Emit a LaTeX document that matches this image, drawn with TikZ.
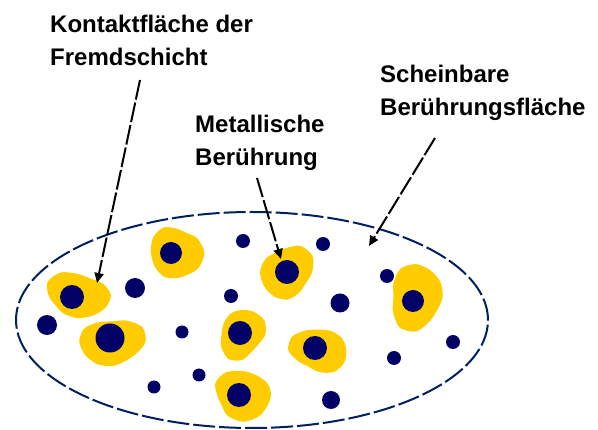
\documentclass[tikz,border=0pt]{standalone}
\usepackage{fontspec}
\setmainfont{Liberation Sans}
\usetikzlibrary{arrows.meta,shapes.geometric}
\definecolor{blobyellow}{RGB}{255,204,0}
\definecolor{dotnavy}{RGB}{0,0,102}
\definecolor{rimblue}{RGB}{0,32,96}
% #1,#2 centre; #3,#4 radii; #5 amplitude; #6,#7 phases
\newcommand{\myblob}[7]{%
  \fill[blobyellow] plot[smooth cycle, samples at={0,30,...,330}, variable=\t]
   ({#1+#3*(1+#5*sin(2*\t+#6)+0.6*#5*cos(3*\t+#7))*cos(\t)},
    {#2+#4*(1+#5*sin(2*\t+#6)+0.6*#5*cos(3*\t+#7))*sin(\t)});}
\tikzset{
  dot/.style={circle, fill=dotnavy, inner sep=0pt},
  lbl/.style={anchor=north west, inner sep=0pt, align=left,
    font=\fontsize{24}{33}\selectfont\bfseries},
  pointer/.style={line width=2pt, dash pattern=on 20pt off 3pt,
    -{Triangle[length=10pt,width=9pt]}},
}
\begin{document}
\begin{tikzpicture}[x=1pt,y=-1pt]
\useasboundingbox (0,0) rectangle (598,430);
% apparent contact area
\node[ellipse, draw=rimblue, line width=2pt, dash pattern=on 22pt off 4pt,
      minimum width=472pt, minimum height=216pt, inner sep=0pt] (area) at (252,320) {};
% foreign layer contact patches
\myblob{78}{295}{30}{23}{0.12}{20}{40}
\myblob{176}{253}{24}{28}{0.12}{70}{10}
\myblob{112}{342}{30}{25}{0.12}{120}{80}
\myblob{242}{334}{23}{24}{0.13}{200}{30}
\myblob{243}{395}{30}{23}{0.12}{300}{60}
\myblob{287}{272}{25}{27}{0.12}{160}{120}
\myblob{416}{297}{28}{30}{0.13}{250}{20}
\myblob{319}{350}{27}{23}{0.12}{40}{150}
% metallic contacts in patches
\node[dot, minimum size=24pt] (m1) at (72,297) {};
\node[dot, minimum size=22pt] (m2) at (171,253) {};
\node[dot, minimum size=29pt] (m3) at (110,338) {};
\node[dot, minimum size=24pt] (m4) at (240,333) {};
\node[dot, minimum size=24pt] (m5) at (239,395) {};
\node[dot, minimum size=24pt] (m6) at (287,272) {};
\node[dot, minimum size=22pt] (m7) at (413,301) {};
\node[dot, minimum size=24pt] (m8) at (315,348) {};
% single metallic points
\node[dot, minimum size=14pt] (p1) at (243,241) {};
\node[dot, minimum size=14pt] (p2) at (323,244) {};
\node[dot, minimum size=14pt] (p3) at (387,276) {};
\node[dot, minimum size=20pt] (p4) at (135,288) {};
\node[dot, minimum size=14pt] (p5) at (231,296) {};
\node[dot, minimum size=19pt] (p6) at (340,303) {};
\node[dot, minimum size=20pt] (p7) at (47,325) {};
\node[dot, minimum size=13pt] (p8) at (182,332) {};
\node[dot, minimum size=14pt] (p9) at (453,342) {};
\node[dot, minimum size=14pt] (p10) at (394,358) {};
\node[dot, minimum size=13pt] (p11) at (199,375) {};
\node[dot, minimum size=13pt] (p12) at (154,387) {};
\node[dot, minimum size=18pt] (p13) at (331,400) {};
% labels
\node[lbl] (kf) at (50,15) {Kontaktfläche der\\Fremdschicht};
\node[lbl] (mb) at (195,115) {Metallische\\Berührung};
\node[lbl] (sb) at (380,65) {Scheinbare\\Berührungsfläche};
% pointers
\coordinate (kfs) at (140,80);
\coordinate (kfe) at (97,283);
\coordinate (mbs) at (257,178);
\coordinate (mbe) at (281,259);
\coordinate (sbs) at (435,138);
\coordinate (sbe) at (369,246);
\draw[pointer] (kfs) -- (kfe);
\draw[pointer] (mbs) -- (mbe);
\draw[pointer] (sbs) -- (sbe);
\end{tikzpicture}
\end{document}
